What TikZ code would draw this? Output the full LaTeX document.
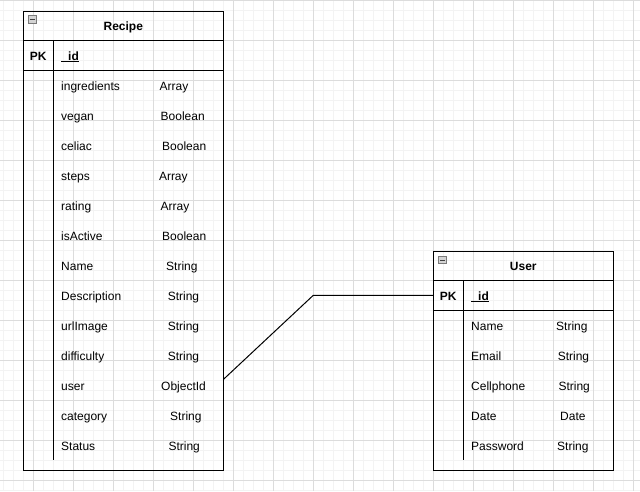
\documentclass[tikz,border=0pt]{standalone}
\usepackage{fontspec}
\setmainfont{Liberation Sans}
\definecolor{gridmin}{HTML}{F3F3F3}
\definecolor{gridmaj}{HTML}{DCDCDC}
\definecolor{iconfill}{HTML}{D4D4D4}
\definecolor{iconline}{HTML}{7A7A7A}
\tikzset{
  fld/.style={anchor=base west,inner sep=0pt},
  ttl/.style={anchor=base,inner sep=0pt,font=\fontsize{12}{14}\selectfont\bfseries},
  tbl/.style={rectangle,draw,line width=1pt,anchor=north west,inner sep=0pt},
  icon/.style={rectangle,draw=iconline,fill=iconfill,line width=0.6pt,minimum size=7.5pt,inner sep=0pt}
}
\begin{document}
\begin{tikzpicture}[x=1pt,y=-1pt,font=\fontsize{12}{14}\selectfont]
\useasboundingbox (0,0) rectangle (640,491);
\fill[white] (0,0) rectangle (640,491);

% background grid
\foreach \x in {3,13,...,643} \draw[gridmin,line width=0.6pt] (\x,0) -- (\x,491);
\foreach \y in {0,10,...,490} \draw[gridmin,line width=0.6pt] (0,\y) -- (640,\y);
\foreach \x in {33,73,...,633} \draw[gridmaj,line width=0.6pt] (\x,0) -- (\x,491);
\foreach \y in {0,40,...,480} \draw[gridmaj,line width=0.6pt] (0,\y) -- (640,\y);

%%%% Recipe
\node[tbl,minimum width=200pt,minimum height=459.3pt] (rec) at (23.3,10.7) {};
\draw[line width=1pt] (23.3,40.7) -- (223.3,40.7);
\draw[line width=1pt] (23.3,70.7) -- (223.3,70.7);
\draw[line width=1pt] (53.3,40.7) -- (53.3,460);

\node[icon] (rec_min) at (32.3,19.4) {};
\draw[line width=1pt,black!75] ([xshift=1.6pt]rec_min.west) -- ([xshift=-1.6pt]rec_min.east);
\node[ttl] (rec_d) at (123.3,30) {Recipe};
\node[ttl] (rec_pk) at (38.3,60) {PK};
\node[fld,font=\fontsize{12}{14}\selectfont\bfseries] (rec_id) at (61.3,60) {\_id};
\draw[line width=0.8pt] ([yshift=-1.7pt]rec_id.base west) -- ([yshift=-1.7pt]rec_id.base east);

 \node[fld] (rec_f1) at (61,90) {ingredients};
 \node[fld] (rec_t1) at (159.5,90) {Array};
 \node[fld] (rec_f2) at (61,120) {vegan};
 \node[fld] (rec_t2) at (160.5,120) {Boolean};
 \node[fld] (rec_f3) at (61,150) {celiac};
 \node[fld] (rec_t3) at (162,150) {Boolean};
 \node[fld] (rec_f4) at (61,180) {steps};
 \node[fld] (rec_t4) at (158.8,180) {Array};
 \node[fld] (rec_f5) at (61,210) {rating};
 \node[fld] (rec_t5) at (160.5,210) {Array};
 \node[fld] (rec_f6) at (61,240) {isActive};
 \node[fld] (rec_t6) at (162,240) {Boolean};
 \node[fld] (rec_f7) at (61,270) {Name};
 \node[fld] (rec_t7) at (166,270) {String};
 \node[fld] (rec_f8) at (61,300) {Description};
 \node[fld] (rec_t8) at (167.6,300) {String};
 \node[fld] (rec_f9) at (61,330) {urlImage};
 \node[fld] (rec_t9) at (167.6,330) {String};
 \node[fld] (rec_f10) at (61,360) {difficulty};
 \node[fld] (rec_t10) at (167.6,360) {String};
 \node[fld] (rec_f11) at (61,390) {user};
 \node[fld] (rec_t11) at (161,390) {ObjectId};
 \node[fld] (rec_f12) at (61,420) {category};
 \node[fld] (rec_t12) at (170,420) {String};
 \node[fld] (rec_f13) at (61,450) {Status};
 \node[fld] (rec_t13) at (168.3,450) {String};

%%%% User
\node[tbl,minimum width=180pt,minimum height=219.3pt] (usr) at (433.3,250.7) {};
\draw[line width=1pt] (433.3,280.7) -- (613.3,280.7);
\draw[line width=1pt] (433.3,310.7) -- (613.3,310.7);
\draw[line width=1pt] (463.3,280.7) -- (463.3,460);

\node[icon] (usr_min) at (442.3,260) {};
\draw[line width=1pt,black!75] ([xshift=1.6pt]usr_min.west) -- ([xshift=-1.6pt]usr_min.east);
\node[ttl] (usr_d) at (523.3,270) {User};
\node[ttl] (usr_pk) at (448.3,300) {PK};
\node[fld,font=\fontsize{12}{14}\selectfont\bfseries] (usr_id) at (471.3,300) {\_id};
\draw[line width=0.8pt] ([yshift=-1.7pt]usr_id.base west) -- ([yshift=-1.7pt]usr_id.base east);

 \node[fld] (usr_f1) at (471,330) {Name};
 \node[fld] (usr_t1) at (556,330) {String};
 \node[fld] (usr_f2) at (471,360) {Email};
 \node[fld] (usr_t2) at (557.6,360) {String};
 \node[fld] (usr_f3) at (471,390) {Cellphone};
 \node[fld] (usr_t3) at (558.3,390) {String};
 \node[fld] (usr_f4) at (471,420) {Date};
 \node[fld] (usr_t4) at (560,420) {Date};
 \node[fld] (usr_f5) at (471,450) {Password};
 \node[fld] (usr_t5) at (557,450) {String};

% relation
\coordinate (rec_fk) at (223.3,379.5);
\coordinate (bend) at (313.3,295.3);
\draw[line width=1pt] (rec_fk) -- (bend) -- (usr.west |- bend);

\end{tikzpicture}
\end{document}
